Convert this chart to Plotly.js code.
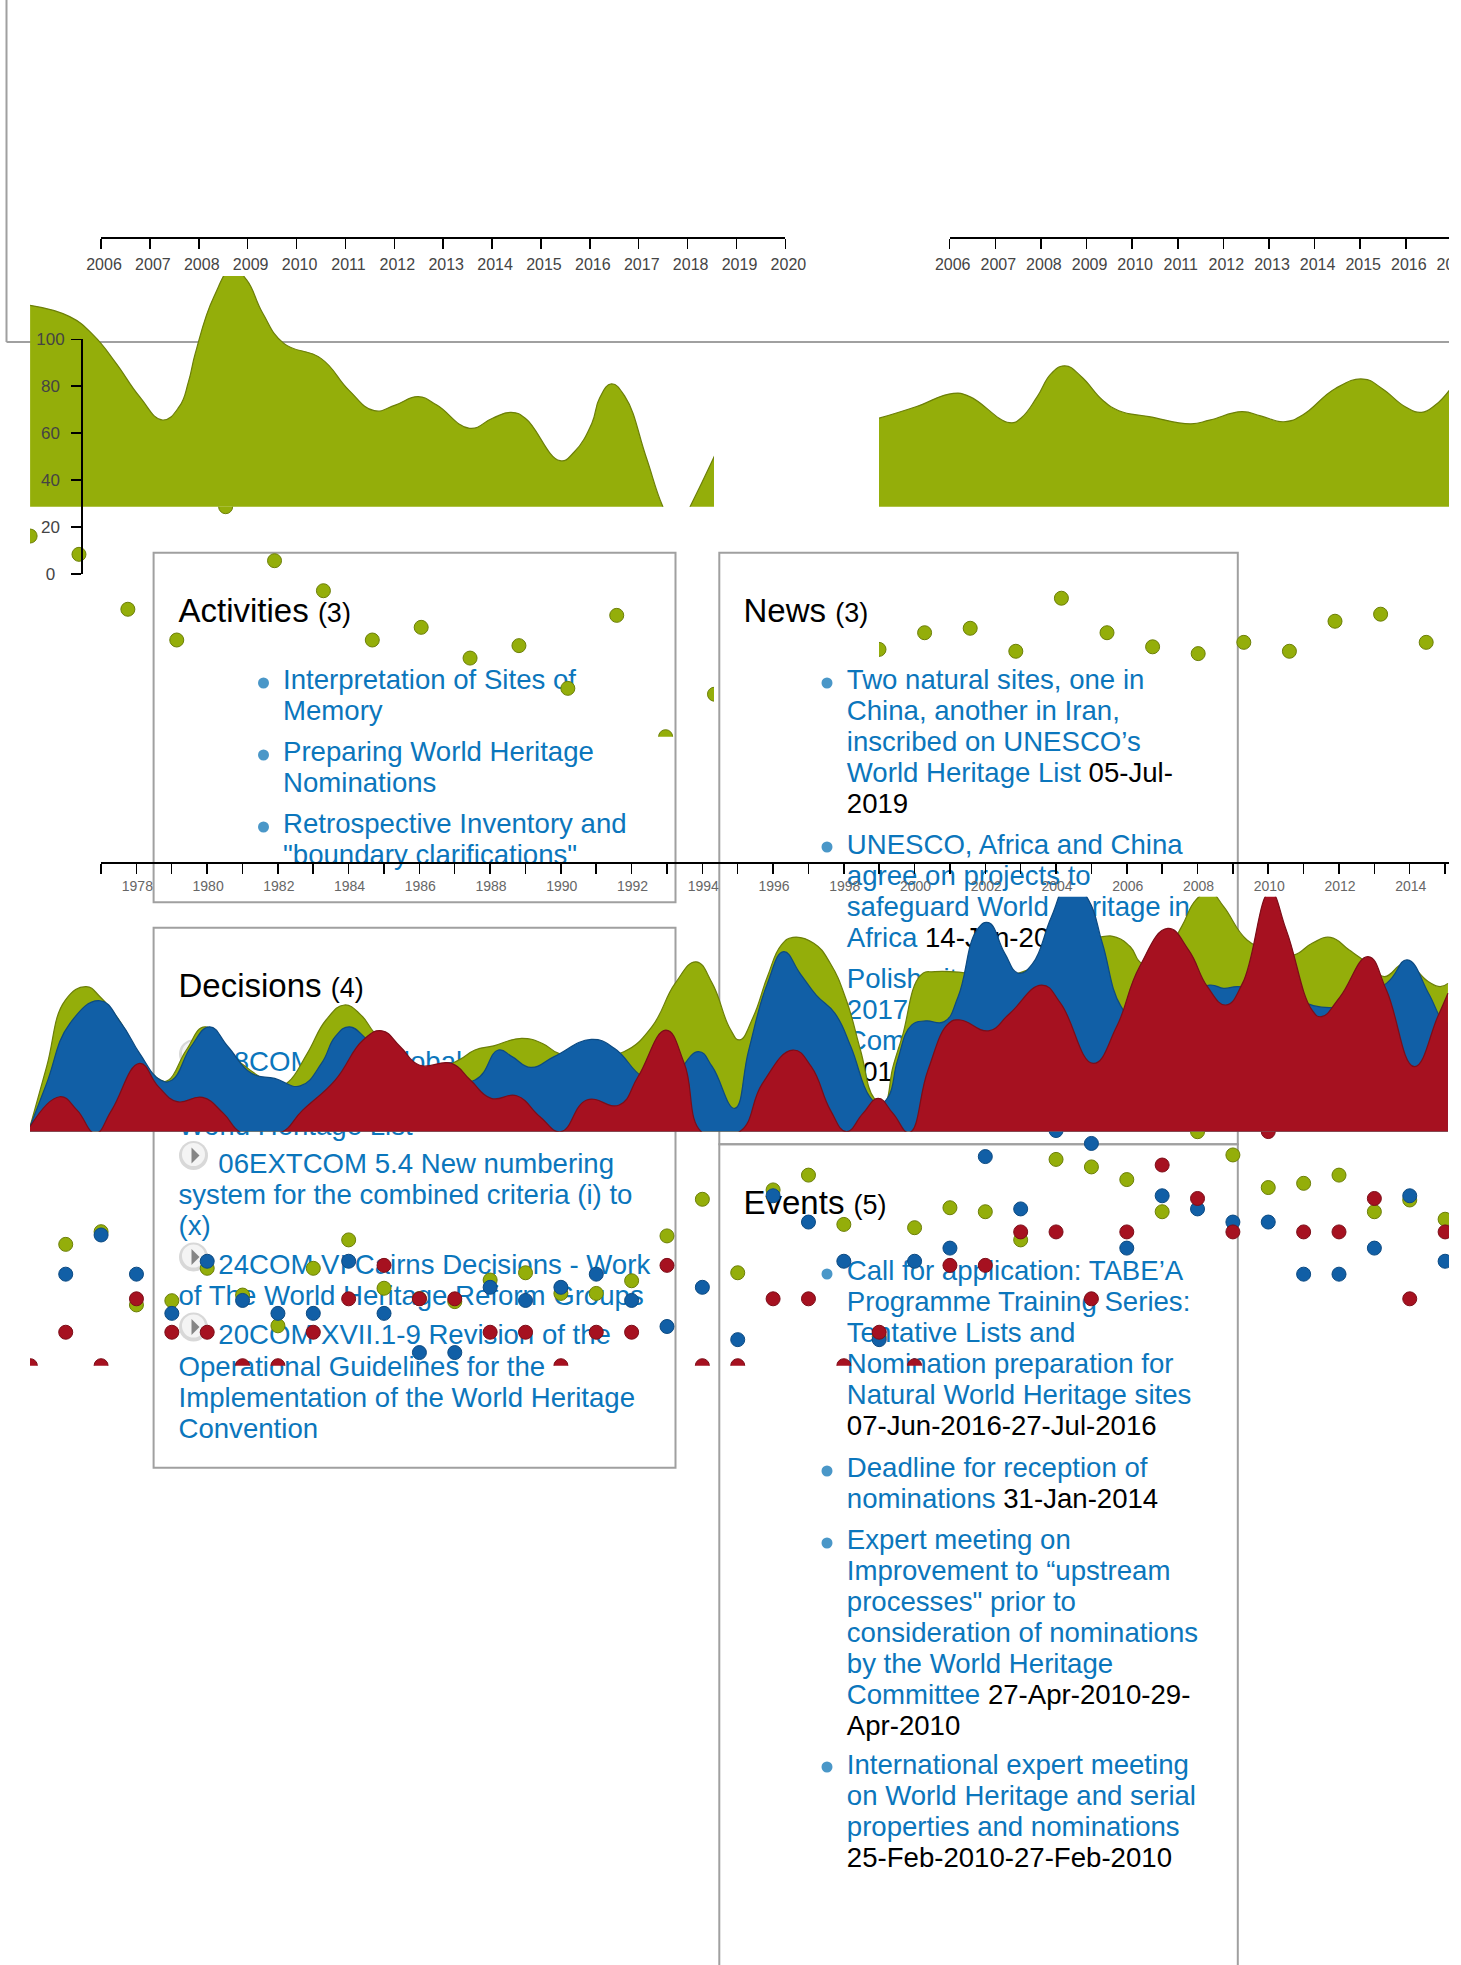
<!DOCTYPE html>
<html><head><meta charset="utf-8">
<script src="https://cdn.plot.ly/plotly-3.0.1.min.js"></script>
<style>html,body{margin:0;padding:0;background:#fff}</style></head>
<body><div id="chart" style="width:1461px;height:1965px"></div>
<script>
// ---- Top-left area (2006-2020) ----
const areaAYears=[2004.55,2005.36,2005.84,2006.31,2006.79,2007.26,2007.60,2007.79,2007.93,2008.31,2008.69,2008.98,2009.31,2009.74,2010.50,2011.07,2011.59,2012.02,2012.49,2012.87,2013.54,2014.01,2014.39,2014.68,2015.39,2015.68,2016.04,2016.20,2016.44,2016.72,2017.15,2017.48,2017.77,2018.05,2018.48,2018.80];
const areaAValues=[114.5,109.7,101.9,89.8,75.6,65.65,71.3,82,94.1,118.2,130.3,125.3,111.1,98.3,91.9,78.4,69.6,72,75.6,72,62.1,66.4,68.9,66.4,48.3,52,64.2,75,81,75.6,50,29.4,17.4,28.7,47.2,62];
const dotsAYears=[2004.55,2005.55,2006.55,2007.55,2008.55,2009.55,2010.55,2011.55,2012.55,2013.55,2014.55,2015.55,2016.55,2017.55,2018.55];
const dotsAValues=[85.5,77.7,54.3,41.2,98,75,62.2,41.2,46.6,33.5,38.8,20.6,51.7,0,18.1];
// ---- Top-right area (2006-2017) ----
const areaBYears=[2004.45,2005.26,2006.08,2006.44,2007.31,2007.56,2007.92,2008.23,2008.53,2008.89,2009.35,2009.71,2010.37,2011.29,2011.70,2012.41,2012.82,2013.33,2013.74,2014.46,2015.07,2015.48,2015.99,2016.35,2016.65,2016.96];
const areaBValues=[66.4,71.3,77,75.6,64.5,66.4,75.6,85.5,88.7,84.1,74.2,69.6,67.1,64,65.6,69.2,67.4,64.9,67.8,79.1,83.1,79.1,71.3,68.9,72,78.4];
const dotsBYears=[2004.45,2005.45,2006.45,2007.45,2008.45,2009.45,2010.45,2011.45,2012.45,2013.45,2014.45,2015.45,2016.45];
const dotsBValues=[37.2,44.3,46.2,36.4,59,44.3,38.3,35.4,40.2,36.4,49.2,52.2,40.2];
// ---- Bottom overlaid areas (1977-2015) ----
const greenYears=[1974.99,1975.46,1975.99,1976.58,1976.97,1977.57,1978.09,1978.68,1978.91,1979.41,1979.94,1980.73,1982.04,1982.30,1982.83,1983.36,1983.88,1984.35,1984.74,1985.46,1986.25,1987.11,1987.57,1988.10,1988.89,1989.48,1989.94,1990.86,1991.78,1992.57,1993.23,1993.82,1994.28,1994.78,1995.05,1995.44,1995.84,1996.23,1996.56,1997.15,1997.62,1998.07,1998.47,1998.86,1999.13,1999.39,1999.65,2000.18,2000.57,2001.36,2002.15,2003.07,2004.26,2005.31,2005.71,2006.10,2006.43,2006.96,2007.55,2007.95,2008.34,2008.74,2009.40,2010.05,2010.71,2011.24,2011.76,2012.29,2012.82,2013.28,2013.87,2014.53,2014.86,2015.08];
const greenValues=[2.1,27.7,56.1,61.8,57.5,46.2,32,22,22,34.8,44.7,32,19.9,21.3,33.4,47.6,54,49.7,41.9,32,26.3,30.5,34.8,36.6,39.8,37.6,33.4,32,34.1,44.7,63.2,72.4,63.2,44,39.1,49,66.1,79.5,82.8,80.3,71.7,56.1,34.8,14.2,12,27.7,40.5,66.8,68.2,67.8,66,68.2,77.4,83.1,82.8,78.8,71.7,73.2,87.4,98.7,102.3,95.9,81.7,77.4,75.3,80.3,82.8,77.4,71.7,66.1,71.7,63.9,61.8,63.2];
const blueYears=[1974.99,1975.46,1976.12,1976.97,1977.57,1978.09,1978.68,1979.01,1979.54,1980.07,1980.59,1981.25,1981.91,1982.63,1983.23,1983.62,1984.02,1984.54,1985.07,1985.99,1987.57,1988.23,1988.62,1989.15,1989.81,1990.86,1991.52,1992.31,1992.97,1993.89,1994.28,1994.91,1995.31,1995.84,1996.30,1996.76,1997.22,1997.75,1998.20,1998.73,1999.00,1999.26,1999.52,1999.92,2000.31,2000.84,2001.23,2001.76,2002.09,2002.55,2002.94,2003.34,2003.87,2004.39,2004.92,2005.31,2005.84,2006.36,2007.29,2008.34,2008.74,2009.13,2010.05,2011.89,2013.34,2013.93,2014.53,2014.92,2015.08];
const blueValues=[2.1,20.6,46.2,55.8,46.2,33.4,22,22,36.2,44.7,36.2,24.9,22.7,19.5,29.1,40.5,44.7,39.1,33.4,22,22,34.8,32,27.4,32,39.3,35.5,23.4,20.6,34.1,27.7,9.9,34.8,63.2,76.7,67.5,58.2,50.4,36.2,14.9,12,14.9,30.5,45.5,47.2,46.9,57.5,85.9,89.1,76,67.5,71.7,91.6,107.2,98.7,80.3,53.3,46,56,62.5,61.1,61.8,60,53,63.2,73.2,59,47.6,46.2];
const redYears=[1974.99,1975.83,1976.32,1976.84,1977.30,1978.09,1978.62,1979.15,1979.87,1980.46,1980.99,1982.04,1982.70,1983.62,1984.41,1984.94,1985.46,1985.99,1986.91,1987.44,1988.03,1988.75,1989.41,1990.00,1990.73,1991.65,1992.18,1992.97,1993.49,1994.02,1995.05,1995.70,1996.56,1997.08,1997.62,1998.07,1998.54,1998.97,1999.39,1999.85,2000.38,2000.97,2001.30,2002.09,2002.69,2003.60,2004.13,2005.05,2005.71,2006.36,2007.16,2007.75,2008.28,2008.80,2009.27,2010.05,2010.51,2011.24,2011.50,2012.03,2012.82,2013.34,2014.13,2014.79,2015.08];
const redValues=[2.1,14.9,9.2,-0.7,9.2,29.1,19.2,12.8,14.6,7.8,-0.7,-0.7,9.2,22,39.1,43,36.2,28.4,29.1,22,14.2,15.3,6.4,0,13.5,11.4,23.4,43.3,29.1,-0.7,0,20.6,34.8,27.7,9.2,0,7.8,14.2,7.8,-0.4,26.3,46.2,47.6,43,50.4,62.5,54.7,29.1,44.7,70.3,86.6,77.4,61.8,54,63.2,102.3,85.9,51.8,49,57.5,74.6,60.4,27.7,49,59];
// ---- Bottom dots ----
const dotYears=[1976,1977,1978,1979,1980,1981,1982,1983,1984,1985,1986,1987,1988,1989,1990,1991,1992,1993,1994,1995,1996,1997,1998,1999,2000,2001,2002,2003,2004,2005,2006,2007,2008,2009,2010,2011,2012,2013,2014,2015];
const greenDots=[51.7,57.1,25.9,27.7,41.5,30.1,17,41.5,53.6,33,28.6,27.3,36.5,39.6,30.8,30.8,36.2,55.3,70.9,39.6,74.9,81.2,60.2,12.4,58.8,67.3,65.6,53.6,87.9,84.7,79.3,65.6,99.7,89.8,75.9,77.7,81.2,65.6,70.6,62.4];
const blueDots=[39,55.7,39,22.3,44.5,27.8,22.3,22.3,44.5,22.3,5.6,5.6,33.4,27.8,33.4,39,27.8,16.7,33.4,11.1,72.4,61.2,44.5,11.1,44.5,50.1,89.1,66.8,100.2,94.7,50.1,72.4,66.8,61.2,61.2,39,39,50.1,72.4,44.5];
const redDotYears=[1975].concat(dotYears);
const redDots=[0,14.25,0,28.5,14.25,14.25,0,0,14.25,28.5,42.75,28.5,28.5,14.25,14.25,0,14.25,14.25,42.75,0,0,28.5,28.5,0,14.25,0,42.75,42.75,57,57,28.5,57,85.5,71.25,57,99.75,57,57,71.25,28.5,57];
// ---- Axis labels ----
const topTicksA=[2006,2007,2008,2009,2010,2011,2012,2013,2014,2015,2016,2017,2018,2019,2020];
const topTicksB=[2006,2007,2008,2009,2010,2011,2012,2013,2014,2015,2016,2017];
const bottomTicks=[1977,1978,1979,1980,1981,1982,1983,1984,1985,1986,1987,1988,1989,1990,1991,1992,1993,1994,1995,1996,1997,1998,1999,2000,2001,2002,2003,2004,2005,2006,2007,2008,2009,2010,2011,2012,2013,2014,2015];
const bottomLabels=['','1978','','1980','','1982','','1984','','1986','','1988','','1990','','1992','','1994','','1996','','1998','','2000','','2002','','2004','','2006','','2008','','2010','','2012','','2014',''];
const valueTicks=[0,20,40,60,80,100];
const valueLabels=['0\u00A0\u00A0','20\u00A0','40\u00A0','60\u00A0','80\u00A0','100'];
// ---- Panel text ----
const LINK='#0b76bc';
const d=s=>'<span style="color:#000">'+s+'</span>';
const titles=[[179,621.7,'Activities','(3)'],[744,621.7,'News','(3)'],[179,996.7,'Decisions','(4)'],[744,1213.5,'Events','(5)']];
const leftLines=[[689,'Interpretation of Sites of'],[720,'Memory'],[761,'Preparing World Heritage'],[792,'Nominations'],[833,'Retrospective Inventory and'],[864,'"boundary clarifications"']];
const rightLines=[[689,'Two natural sites, one in'],[720,'China, another in Iran,'],[751,'inscribed on UNESCO’s'],[782,'World Heritage List '+d('05-Jul-')],[813,d('2019')],[853.5,'UNESCO, Africa and China'],[884.5,'agree on projects to'],[915.5,'safeguard World Heritage in'],[946.5,'Africa '+d('14-Jun-2018')],[987.5,'Polish sites inscribed at the'],[1018.5,'2017 World Heritage'],[1049.5,'Committee session'],[1080.5,d('2017')],
[1280,'Call for application: TABE’A'],[1311,'Programme Training Series:'],[1342,'Tentative Lists and'],[1373,'Nomination preparation for'],[1404,'Natural World Heritage sites'],[1435,d('07-Jun-2016-27-Jul-2016')],[1476.5,'Deadline for reception of'],[1507.5,'nominations '+d('31-Jan-2014')],[1548.5,'Expert meeting on'],[1579.5,'Improvement to “upstream'],[1610.5,'processes" prior to'],[1641.5,'consideration of nominations'],[1672.5,'by the World Heritage'],[1703.5,'Committee '+d('27-Apr-2010-29-')],[1734.5,d('Apr-2010')],[1773.5,'International expert meeting'],[1804.5,'on World Heritage and serial'],[1835.5,'properties and nominations'],[1866.5,d('25-Feb-2010-27-Feb-2010')]];
const decisionIconLines=[[1071,'28COM 13.1 Global Strategy'],[1172.5,'06EXTCOM 5.4 New numbering'],[1273.5,'24COM VI Cairns Decisions - Work'],[1344,'20COM XVII.1-9 Revision of the']];
const decisionLines=[[1102,'for a credible World Heritage'],[1135,'World Heritage List'],[1203.5,'system for the combined criteria (i) to'],[1235,'(x)'],[1305,'of The World Heritage Reform Groups'],[1376,'Operational Guidelines for the'],[1407,'Implementation of the World Heritage'],[1438,'Convention']];
const bulletsLeft=[683,755,827];
const bulletsRight=[683,847,1274,1471,1543,1767];
const iconCentres=[1054,1155.5,1257,1327];

const W=1461,H=1965,FONT='"Liberation Sans",Arial,sans-serif';
const GREEN='#94ae0a',BLUE='#115fa6',RED='#a61120';
const DK={[GREEN]:'#6c7f08',[BLUE]:'#0c4a82',[RED]:'#7c0d18'};
const fx=p=>p/W, fy=p=>1-p/H;
const domX=(a,b)=>[fx(a),Math.min(1,fx(b))];
const domY=(top,bot)=>[fy(bot),fy(top)];

function area(x,y,c,xa,ya){return {type:'scatter',mode:'lines',x,y,xaxis:xa,yaxis:ya,fill:'tozeroy',fillcolor:c,line:{color:DK[c],width:1.2,shape:'spline',smoothing:1.3},hoverinfo:'skip'};}
function dots(x,y,c,xa,ya){return {type:'scatter',mode:'markers',x,y,xaxis:xa,yaxis:ya,marker:{color:c,size:14,line:{color:DK[c],width:1}},hoverinfo:'skip',cliponaxis:true};}
function ghost(x,y,xa,ya){return {type:'scatter',mode:'markers',x,y,xaxis:xa,yaxis:ya,marker:{opacity:0,size:1},hoverinfo:'skip'};}

const data=[
 dots(dotsAYears,dotsAValues,GREEN,'x2','y2'),
 dots(dotsBYears,dotsBValues,GREEN,'x4','y4'),
 dots(dotYears,greenDots,GREEN,'x6','y6'),
 dots(dotYears,blueDots,BLUE,'x6','y6'),
 dots(redDotYears,redDots,RED,'x6','y6'),
 area(areaAYears,areaAValues,GREEN,'x','y'),
 area(areaBYears,areaBValues,GREEN,'x3','y3'),
 area(greenYears,greenValues,GREEN,'x5','y5'),
 area(blueYears,blueValues,BLUE,'x5','y5'),
 area(redYears,redValues,RED,'x5','y5'),
 ghost(topTicksA,topTicksA.map(()=>50),'x7','y7'),
 ghost(topTicksB,topTicksB.map(()=>50),'x8','y7'),
 ghost(bottomTicks,bottomTicks.map(()=>50),'x9','y7')
];
const hid=(domain,range)=>({visible:false,domain,range,fixedrange:true,showgrid:false,zeroline:false});
const yrA=[2004.548,2018.54],yrB=[2004.45,2016.95],yrC=[1974.99,2015.11];
const timeAxis=(dom,range,posPx,ticks,labels,size,color,shift,len,standoff)=>({domain:dom,range,anchor:'free',position:fy(posPx),side:'bottom',tickmode:'array',tickvals:ticks,ticktext:labels,ticks:'outside',ticklen:len,tickwidth:1.5,tickcolor:'#000',showline:true,linecolor:'#000',linewidth:2,showgrid:false,zeroline:false,fixedrange:true,tickfont:{family:FONT,size,color},ticklabelshift:shift,ticklabelstandoff:standoff,ticklabeloverflow:'allow'});
const layout={width:W,height:H,autosize:false,margin:{l:0,r:0,t:0,b:0,pad:0},paper_bgcolor:'#fff',plot_bgcolor:'rgba(0,0,0,0)',showlegend:false,
 xaxis:hid(domX(30,714),yrA), yaxis:hid(domY(276,506.7),[28.7,127]),
 xaxis2:hid(domX(30,714),yrA), yaxis2:hid(domY(506.7,736.7),[0,98]),
 xaxis3:hid(domX(879,1449),yrB), yaxis3:hid(domY(276,506.7),[28.7,127]),
 xaxis4:hid(domX(879,1449),yrB), yaxis4:hid(domY(506.7,736.7),[0,98]),
 xaxis5:hid(domX(30,1449),yrC), yaxis5:hid(domY(896.7,1131.7),[0,100.14]),
 xaxis6:hid(domX(30,1449),yrC), yaxis6:hid(domY(1131.7,1365.7),[0,99.7]),
 xaxis7:timeAxis(domX(101,785.4),[2006,2020],237.7,topTicksA,topTicksA.map(String),16,'#444',3,10,2),
 xaxis8:timeAxis(domX(949.7,1461),[2006,2017.21],237.7,topTicksB,topTicksB.map(String),16,'#444',3,10,2),
 xaxis9:timeAxis(domX(101,1461),[1977,2015.45],862.7,bottomTicks,bottomLabels,14,'#666',1,10,0),
 yaxis7:{domain:domY(339.3,574),range:[0,100],anchor:'free',position:fx(82),side:'left',tickmode:'array',tickvals:valueTicks,ticktext:valueLabels,ticks:'outside',ticklen:10,tickwidth:1.5,tickcolor:'#000',showline:true,linecolor:'#000',linewidth:2,showgrid:false,zeroline:false,fixedrange:true,tickfont:{family:FONT,size:17,color:'#444'},ticklabelstandoff:3},
 shapes:[],annotations:[]
};
const S=layout.shapes;
function line(x0,y0,x1,y1){S.push({type:'line',xref:'paper',yref:'paper',x0:fx(x0),y0:fy(y0),x1:fx(x1),y1:fy(y1),layer:'below',line:{color:'#a0a0a0',width:2}});}
function rect(x0,y0,x1,y1){S.push({type:'rect',xref:'paper',yref:'paper',x0:fx(x0),y0:fy(y0),x1:fx(x1),y1:fy(y1),layer:'below',line:{color:'#a0a0a0',width:2},fillcolor:'rgba(0,0,0,0)'});}
function circle(cx,cy,r,fill,lc,lw){S.push({type:'circle',xref:'paper',yref:'paper',x0:fx(cx-r),x1:fx(cx+r),y0:fy(cy+r),y1:fy(cy-r),layer:'below',fillcolor:fill,line:{color:lc||fill,width:lw||0}});}
function text(x,base,html,size,color){const top=base-size*0.95-1;S.push({type:'rect',xref:'paper',yref:'paper',x0:fx(x-3.5),x1:fx(x-1.5),y0:fy(top+2),y1:fy(top),layer:'below',fillcolor:'rgba(0,0,0,0)',line:{width:0},label:{text:html,textposition:'top left',padding:0,font:{family:FONT,size,color}}});}
// frames
line(6.5,0,6.5,342); line(6.5,342,1461,342);
rect(153.6,552.7,675.5,902.3); rect(153.6,927.7,675.5,1467.7);
rect(719.3,552.7,1237.8,1144.3); rect(719.3,1144.3,1237.8,1990);
// bullets
bulletsLeft.forEach(y=>circle(263.5,y,5.5,'#4a97c8'));
bulletsRight.forEach(y=>circle(827,y,5.5,'#4a97c8'));
// play icons
iconCentres.forEach(y=>{circle(193.5,y,14.5,'#d8d8d8');circle(193.5,y-1,11.5,'#f4f4f4');
 S.push({type:'path',xref:'paper',yref:'paper',layer:'below',path:`M ${fx(191.5)} ${fy(y-8)} L ${fx(199.5)} ${fy(y)} L ${fx(191.5)} ${fy(y+8)} Z`,fillcolor:'#858585',line:{width:0}});});
// text
titles.forEach(t=>text(t[0],t[1],t[2]+' <span style="font-size:27px">'+t[3]+'</span>',33,'#000'));
leftLines.forEach(l=>text(283.5,l[0],l[1],27.6,LINK));
rightLines.forEach(l=>text(847.3,l[0],l[1],27.6,LINK));
decisionIconLines.forEach(l=>text(218.8,l[0],l[1],27.6,LINK));
decisionLines.forEach(l=>text(179,l[0],l[1],27.6,LINK));
// right page edge
S.push({type:'rect',xref:'paper',yref:'paper',x0:fx(1449),x1:1,y0:0,y1:1,layer:'above',fillcolor:'#fff',line:{width:0}});
Plotly.newPlot('chart',data,layout,{displayModeBar:false,staticPlot:true,responsive:false});
</script></body></html>
